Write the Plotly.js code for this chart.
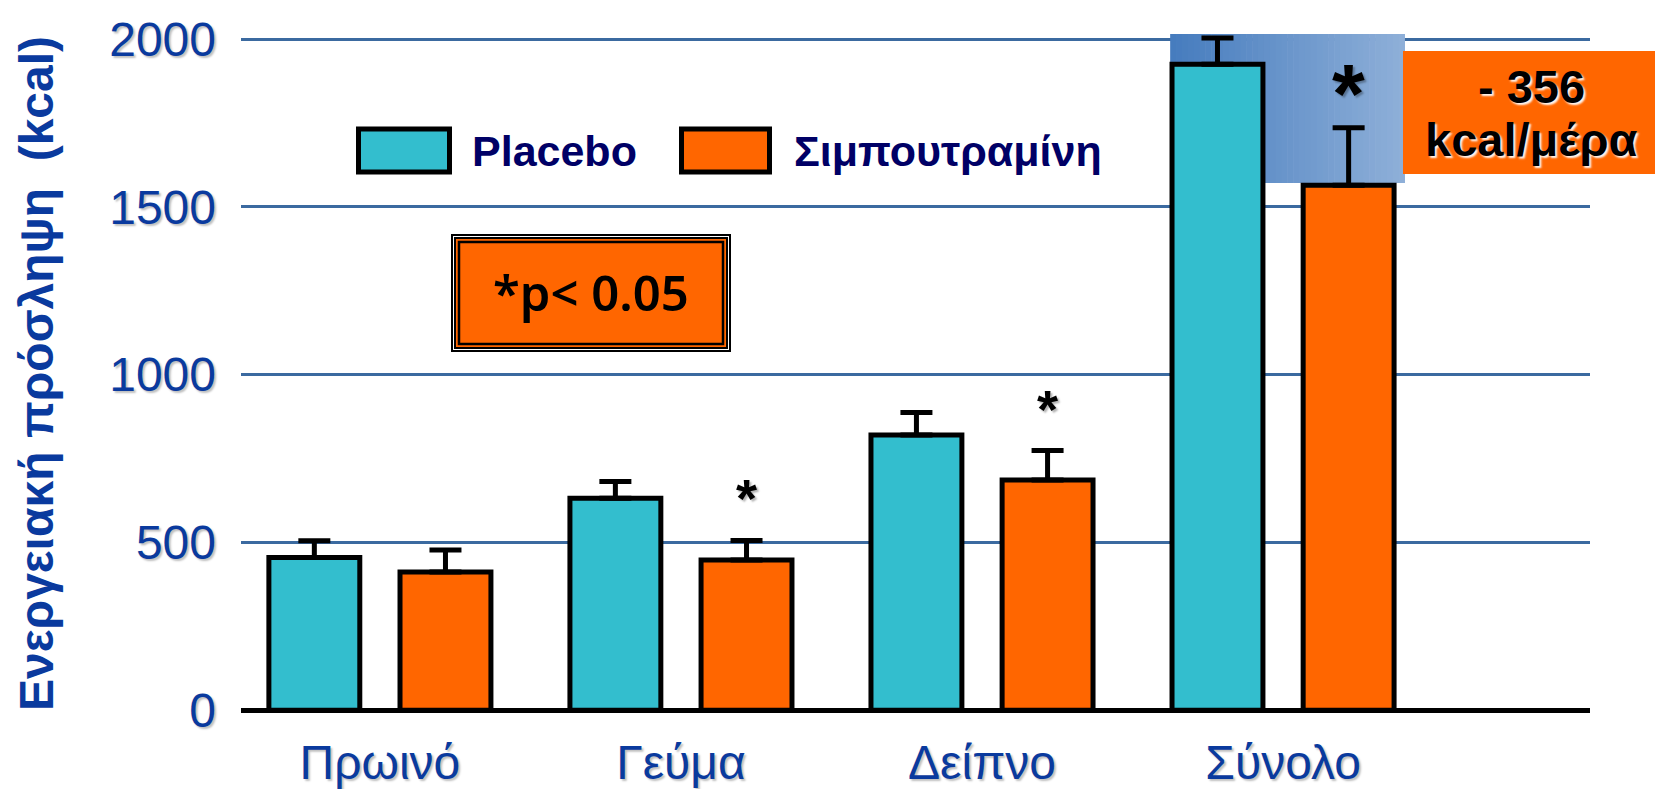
<!DOCTYPE html>
<html>
<head>
<meta charset="utf-8">
<script src="https://cdn.plot.ly/plotly-3.0.1.min.js"></script>
<style>
  html, body { margin: 0; padding: 0; background: #ffffff; }
  #chart { width: 1655px; height: 789px; }
</style>
</head>
<body>
<div id="chart"></div>
<script>
// ---- data ----
const categories = ['Πρωινό', 'Γεύμα', 'Δείπνο', 'Σύνολο'];
const placebo = [455, 632, 820, 1925];
const placeboErr = [50, 50, 67, 78];
const sibutramine = [412, 448, 686, 1564];
const sibutramineErr = [66, 58, 88, 172];
const significant = [false, true, true, true];
const yTicks = [0, 500, 1000, 1500, 2000];
const seriesNames = ['Placebo', 'Σιμπουτραμίνη'];
const yTitle = 'Ενεργειακή πρόσληψη\u00a0 (kcal)';
const pNote = '*p< 0.05';
const diffNote = ['- 356', 'kcal/μέρα'];

// ---- styling / geometry ----
const W = 1655, H = 789;
const M = { l: 241, r: 65, t: 34, b: 75.9 };
const plotW = W - M.l - M.r, plotH = H - M.t - M.b;
const px = x => (x - M.l) / plotW;
const py = y => (H - M.b - y) / plotH;

const TEAL = '#33bece';
const ORANGE = '#ff6600';
const BLUE_TXT = '#0a3a9e';
const NAVY = '#000066';
const GRID = '#3b6aa0';
const FONT = 'Liberation Sans, Arial, sans-serif';

const xRange = [-0.4614, 4.0196];
const barW = 0.302;
const half = 0.2178;

const zeros = categories.map(() => 0);

const traces = [
  {
    type: 'bar', name: seriesNames[0], x: categories, y: placebo,
    width: barW, offset: -half - barW / 2,
    marker: { color: TEAL, line: { color: '#000', width: 5 } },
    error_y: { type: 'data', symmetric: false, array: placeboErr, arrayminus: zeros,
               color: '#000', thickness: 5, width: 16 },
    hoverinfo: 'y'
  },
  {
    type: 'bar', name: seriesNames[1], x: categories, y: sibutramine,
    width: barW, offset: half - barW / 2,
    marker: { color: ORANGE, line: { color: '#000', width: 5 } },
    error_y: { type: 'data', symmetric: false, array: sibutramineErr, arrayminus: zeros,
               color: '#000', thickness: 5, width: 16 },
    hoverinfo: 'y'
  }
];

const shapes = [];
const annotations = [];

// gradient highlight behind the total group
const gx0 = 2.625, gx1 = 3.403, gy0 = 1571, gy1 = 2015;
const N = 40;
const c0 = [70, 124, 190], c1 = [142, 175, 216];
for (let i = 0; i < N; i++) {
  const t = i / (N - 1);
  const c = c0.map((v, k) => Math.round(v + (c1[k] - v) * t));
  shapes.push({
    type: 'rect', xref: 'x', yref: 'y', layer: 'between',
    x0: gx0 + (gx1 - gx0) * i / N, x1: gx0 + (gx1 - gx0) * (i + 1) / N + 0.002,
    y0: gy0, y1: gy1,
    fillcolor: `rgb(${c[0]},${c[1]},${c[2]})`, line: { width: 0 }
  });
}

// orange note box at right
shapes.push({
  type: 'rect', xref: 'paper', yref: 'paper', layer: 'above',
  x0: px(1403), x1: px(1656), y0: py(174), y1: py(51),
  fillcolor: ORANGE, line: { width: 0 }
});
[[diffNote[0], 87], [diffNote[1], 140]].forEach(([txt, yy]) => {
  annotations.push({
    xref: 'paper', yref: 'paper', x: px(1531), y: py(yy),
    text: '<b>' + txt + '</b>', showarrow: false,
    font: { family: FONT, size: 47, color: '#000', shadow: '2px 2px 2px rgba(255,255,255,0.95)' },
    xanchor: 'center', yanchor: 'middle', align: 'center'
  });
});

// p-value box
shapes.push({ type: 'rect', xref: 'paper', yref: 'paper', layer: 'above',
  x0: px(452), x1: px(730), y0: py(351), y1: py(235),
  fillcolor: '#ffffff', line: { color: '#000', width: 2 } });
shapes.push({ type: 'rect', xref: 'paper', yref: 'paper', layer: 'above',
  x0: px(455), x1: px(727), y0: py(348), y1: py(238),
  fillcolor: ORANGE, line: { color: '#000', width: 2 } });
shapes.push({ type: 'rect', xref: 'paper', yref: 'paper', layer: 'above',
  x0: px(459), x1: px(723), y0: py(344), y1: py(242),
  fillcolor: 'rgba(0,0,0,0)', line: { color: '#000', width: 2.5 } });
annotations.push({
  xref: 'paper', yref: 'paper', x: px(591), y: py(292),
  text: pNote, showarrow: false,
  font: { family: 'Noto Sans, Open Sans, sans-serif', size: 49, weight: 600, color: '#000' },
  xanchor: 'center', yanchor: 'middle'
});

// custom legend
const legendItems = [
  { name: seriesNames[0], color: TEAL, x0: 356, x1: 452, tx: 470 },
  { name: seriesNames[1], color: ORANGE, x0: 679, x1: 772, tx: 792 }
];
legendItems.forEach(it => {
  shapes.push({ type: 'rect', xref: 'paper', yref: 'paper', layer: 'above',
    x0: px(it.x0 + 2.5), x1: px(it.x1 - 2.5), y0: py(172), y1: py(129),
    fillcolor: it.color, line: { color: '#000', width: 5 } });
  annotations.push({ xref: 'paper', yref: 'paper', x: px(it.tx), y: py(151),
    text: '<b>' + it.name + '</b>', showarrow: false,
    font: { family: FONT, size: 43, color: NAVY },
    xanchor: 'left', yanchor: 'middle' });
});

// significance stars
const pxPerCat = plotW / (xRange[1] - xRange[0]);
categories.forEach((c, i) => {
  if (!significant[i]) return;
  const big = (i === categories.length - 1);
  annotations.push({
    xref: 'x', yref: 'y', x: c, xshift: half * pxPerCat,
    y: sibutramine[i] + sibutramineErr[i], yshift: big ? -15 : 10,
    text: '<b>*</b>', showarrow: false,
    font: { family: FONT, size: big ? 84 : 54, color: '#000',
            shadow: '2px 2px 2px rgba(0,0,0,0.3)' },
    xanchor: 'center', yanchor: 'bottom'
  });
});

const layout = {
  width: W, height: H,
  margin: M,
  paper_bgcolor: '#ffffff', plot_bgcolor: '#ffffff',
  showlegend: false,
  barmode: 'overlay',
  xaxis: {
    type: 'category', range: xRange, fixedrange: true,
    showgrid: false, zeroline: false, showline: false, ticks: '',
    tickfont: { family: FONT, size: 48, color: BLUE_TXT, shadow: '2px 2px 2px rgba(0,0,0,0.25)' },
    ticklabelstandoff: 17, automargin: false
  },
  yaxis: {
    range: [-8, 2015], fixedrange: true,
    tickvals: yTicks, ticktext: yTicks.map(String),
    showgrid: true, gridcolor: GRID, gridwidth: 3,
    zeroline: true, zerolinecolor: '#000', zerolinewidth: 5,
    showline: false, ticks: '',
    tickfont: { family: FONT, size: 48, color: BLUE_TXT, shadow: '2px 2px 2px rgba(0,0,0,0.25)' },
    ticklabelstandoff: 24, automargin: false,
    title: { text: '<b>' + yTitle + '</b>', standoff: 40,
             font: { family: FONT, size: 48, color: BLUE_TXT } }
  },
  shapes: shapes,
  annotations: annotations
};

Plotly.newPlot('chart', traces, layout, { staticPlot: true, displayModeBar: false });
</script>
</body>
</html>
